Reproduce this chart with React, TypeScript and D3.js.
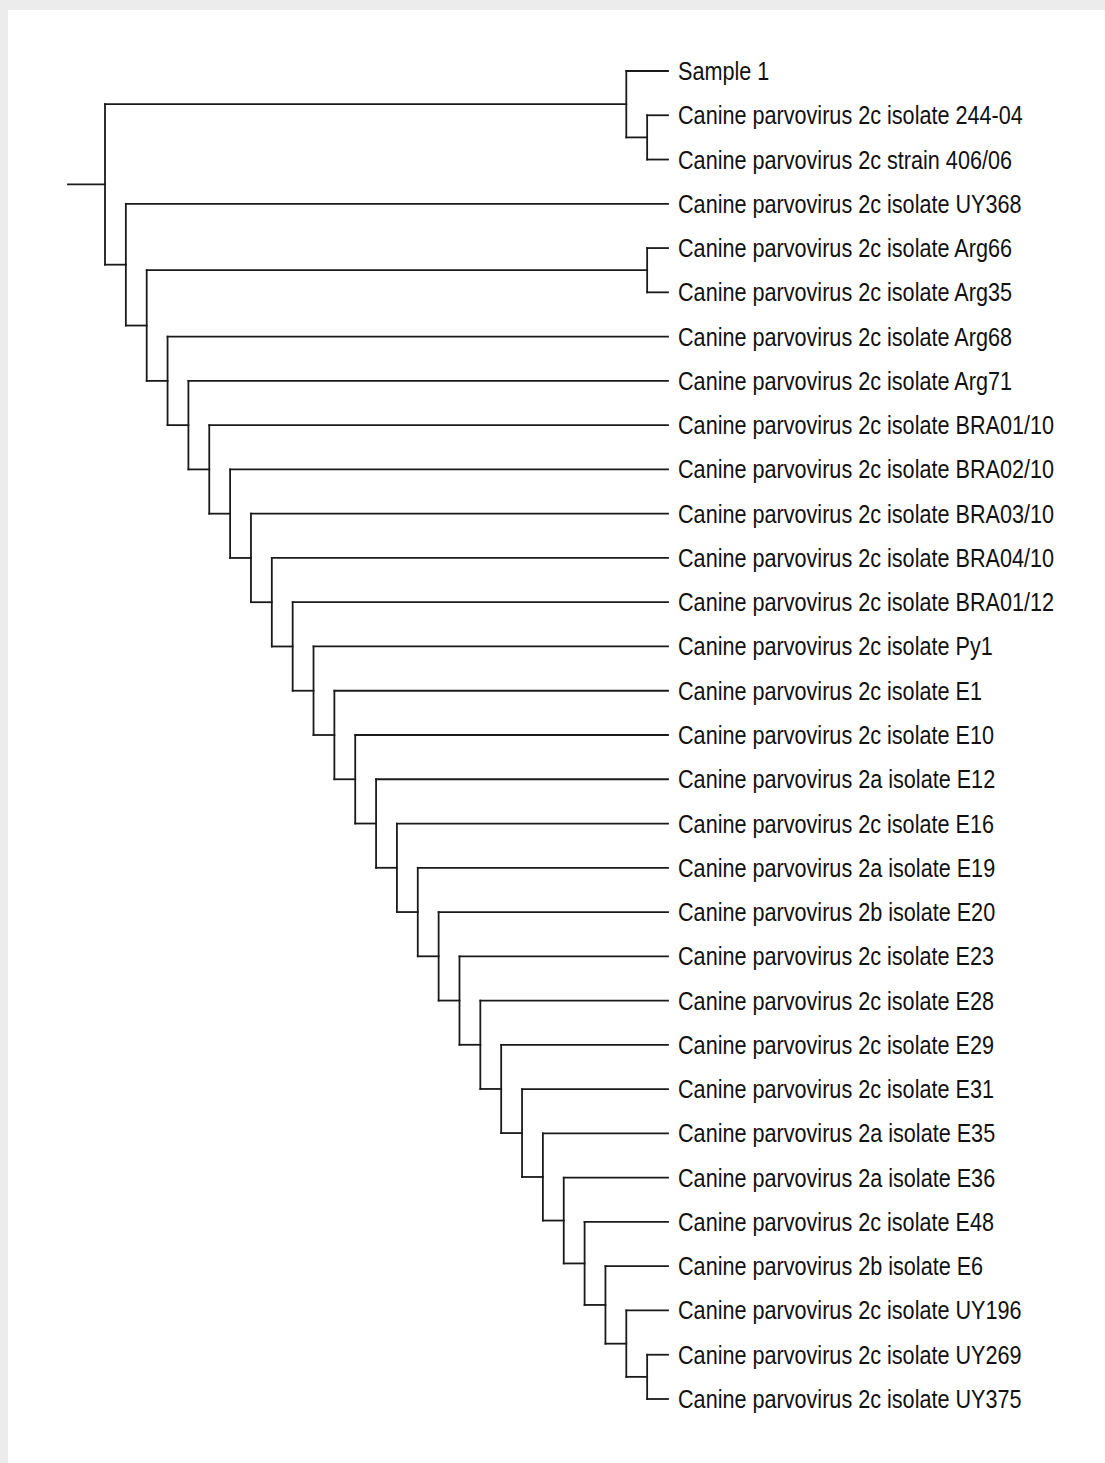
import React, { useEffect, useRef } from 'react';
import * as d3 from 'd3';

// tip labels, top to bottom
const taxa = [
  'Sample 1',
  'Canine parvovirus 2c isolate 244-04',
  'Canine parvovirus 2c strain 406/06',
  'Canine parvovirus 2c isolate UY368',
  'Canine parvovirus 2c isolate Arg66',
  'Canine parvovirus 2c isolate Arg35',
  'Canine parvovirus 2c isolate Arg68',
  'Canine parvovirus 2c isolate Arg71',
  'Canine parvovirus 2c isolate BRA01/10',
  'Canine parvovirus 2c isolate BRA02/10',
  'Canine parvovirus 2c isolate BRA03/10',
  'Canine parvovirus 2c isolate BRA04/10',
  'Canine parvovirus 2c isolate BRA01/12',
  'Canine parvovirus 2c isolate Py1',
  'Canine parvovirus 2c isolate E1',
  'Canine parvovirus 2c isolate E10',
  'Canine parvovirus 2a isolate E12',
  'Canine parvovirus 2c isolate E16',
  'Canine parvovirus 2a isolate E19',
  'Canine parvovirus 2b isolate E20',
  'Canine parvovirus 2c isolate E23',
  'Canine parvovirus 2c isolate E28',
  'Canine parvovirus 2c isolate E29',
  'Canine parvovirus 2c isolate E31',
  'Canine parvovirus 2a isolate E35',
  'Canine parvovirus 2a isolate E36',
  'Canine parvovirus 2c isolate E48',
  'Canine parvovirus 2b isolate E6',
  'Canine parvovirus 2c isolate UY196',
  'Canine parvovirus 2c isolate UY269',
  'Canine parvovirus 2c isolate UY375',
];

// topology in newick, tips given as indexes into taxa
const newick =
  '((0,(1,2)),(3,((4,5),(6,(7,(8,(9,(10,(11,(12,(13,(14,(15,(16,(17,(18,(19,(20,(21,(22,(23,(24,(25,(26,(27,(28,(29,30' +
  ')))))))))))))))))))))))))));';

type TreeNode = { name?: string; children?: TreeNode[] };

function parseNewick(s: string): TreeNode {
  let i = 0;
  function node(): TreeNode {
    if (s[i] === '(') {
      i++;
      const kids: TreeNode[] = [node()];
      while (s[i] === ',') {
        i++;
        kids.push(node());
      }
      i++; // ')'
      return { children: kids };
    }
    let tok = '';
    while (i < s.length && !',();'.includes(s[i])) tok += s[i++];
    return { name: taxa[+tok] };
  }
  return node();
}

function Tree() {
  const ref = useRef<HTMLDivElement>(null);

  useEffect(() => {
    const W = 1105, H = 1463;
    const root = d3.hierarchy(parseNewick(newick));
    d3.cluster<TreeNode>().nodeSize([1, 1]).separation(() => 1)(root);

    const leaves = root.leaves();
    const y = d3.scaleLinear()
      .domain(d3.extent(leaves, (d: any) => d.x) as [number, number])
      .range([71, 1399]);
    const x = d3.scaleLinear()
      .domain([0, root.height])
      .range([105, 668]);

    const svg = d3.select(ref.current)
      .append('svg')
      .attr('width', W)
      .attr('height', H)
      .style('display', 'block');

    // page frame
    svg.append('rect').attr('width', W).attr('height', H).attr('fill', '#ececec');
    svg.append('rect').attr('x', 8).attr('y', 10).attr('width', W - 8).attr('height', H - 10).attr('fill', '#fff');

    const g = svg.append('g')
      .attr('fill', 'none')
      .attr('stroke', '#1a1a1a')
      .attr('stroke-width', 1.8)
      .attr('stroke-linecap', 'square');

    // root stub
    g.append('line')
      .attr('x1', 68).attr('x2', x(root.y!))
      .attr('y1', y(root.x!)).attr('y2', y(root.x!));

    // vertical connectors
    g.selectAll('line.v')
      .data(root.descendants().filter(d => d.children))
      .enter()
      .append('line')
      .attr('class', 'v')
      .attr('x1', d => x(d.y!)).attr('x2', d => x(d.y!))
      .attr('y1', d => y(d.children![0].x!))
      .attr('y2', d => y(d.children![d.children!.length - 1].x!));

    // horizontal branches
    g.selectAll('line.h')
      .data(root.links())
      .enter()
      .append('line')
      .attr('class', 'h')
      .attr('x1', d => x(d.source.y!)).attr('x2', d => x(d.target.y!))
      .attr('y1', d => y(d.target.x!)).attr('y2', d => y(d.target.x!));

    // no narrow font available, so squeeze the regular one
    svg.append('g')
      .selectAll('text')
      .data(leaves)
      .enter()
      .append('text')
      .attr('transform', d => `translate(678,${y(d.x!)}) scale(0.865,1)`)
      .attr('dy', '0.36em')
      .attr('fill', '#111')
      .style('font-family', '"Liberation Sans", Arial, sans-serif')
      .style('font-size', '25px')
      .text(d => d.data.name!);

    return () => {
      d3.select(ref.current).selectAll('*').remove();
    };
  }, []);

  return <div ref={ref} style={{ position: 'absolute', left: 0, top: 0 }}></div>;
}

export default function App() {
  return <Tree />;
}
